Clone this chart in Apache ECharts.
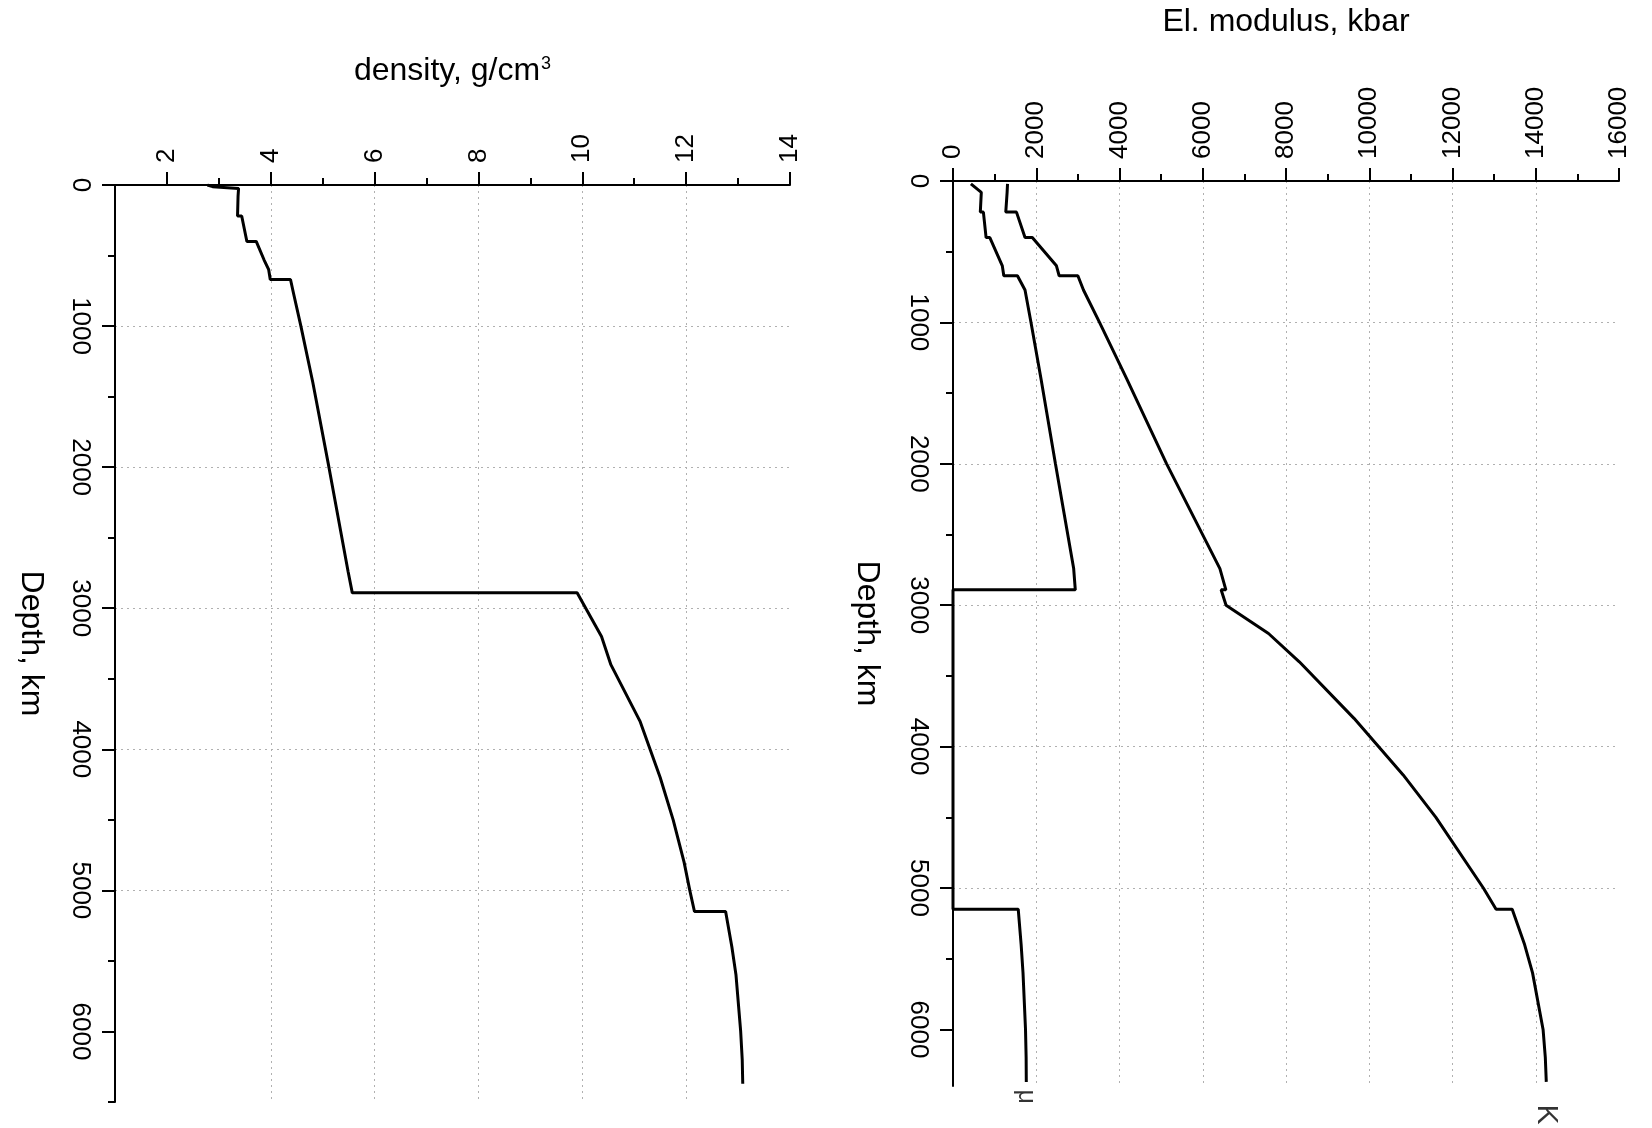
<!DOCTYPE html>
<html>
<head>
<meta charset="utf-8">
<script src="https://cdn.jsdelivr.net/npm/echarts@6/dist/echarts.min.js"></script>
<style>
html,body{margin:0;padding:0;background:#fff;}
#c{width:1652px;height:1128px;}
</style>
</head>
<body>
<div id="c"></div>
<script>
// ---------- data ----------
const densityDepth = [0, 12, 24.4, 24.4, 80, 220, 220, 400, 400, 530, 600, 670, 670, 771, 1000, 1400, 2000, 2741, 2891, 2891, 3200, 3400, 3800, 4200, 4500, 4800, 5000, 5150, 5150, 5400, 5600, 6000, 6200, 6371];
const density = [2.78, 2.88, 2.90, 3.38, 3.37, 3.36, 3.44, 3.54, 3.72, 3.87, 3.96, 3.99, 4.38, 4.44, 4.58, 4.81, 5.12, 5.49, 5.57, 9.90, 10.37, 10.55, 11.11, 11.50, 11.75, 11.96, 12.07, 12.16, 12.76, 12.88, 12.96, 13.05, 13.08, 13.09];

const modulusDepth = [20, 80, 220, 220, 400, 400, 600, 670, 670, 771, 1000, 1400, 2000, 2741, 2891, 2891, 3000, 3200, 3400, 3800, 4200, 4500, 5000, 5150, 5150, 5400, 5600, 6000, 6200, 6371];
const bulkK = [1310, 1300, 1268, 1525, 1730, 1905, 2485, 2550, 3000, 3134, 3520, 4174, 5132, 6412, 6556, 6441, 6560, 7580, 8320, 9634, 10815, 11601, 12741, 13047, 13434, 13732, 13923, 14176, 14230, 14253];
const shearMu = [430, 680, 656, 730, 795, 885, 1185, 1220, 1548, 1730, 1874, 2115, 2461, 2899, 2938, 0, 0, 0, 0, 0, 0, 0, 0, 0, 1567, 1637, 1682, 1742, 1757, 1761];

const depthTicks = [0, 1000, 2000, 3000, 4000, 5000, 6000];
const depthMinorTicksLeft = [500, 1500, 2500, 3500, 4500, 5500, 6500];
const depthMinorTicksRight = [500, 1500, 2500, 3500, 4500, 5500];
const densityTicks = [2, 4, 6, 8, 10, 12, 14];
const densityMinorTicks = [3, 5, 7, 9, 11, 13];
const modulusTicks = [0, 2000, 4000, 6000, 8000, 10000, 12000, 14000, 16000];
const modulusMinorTicks = [1000, 3000, 5000, 7000, 9000, 11000, 13000, 15000];

const curveNames = {K: 'K', mu: 'μ'};

// ---------- chart ----------
const FONT = '"Liberation Sans", Arial, Helvetica, sans-serif';
const chart = echarts.init(document.getElementById('c'), null, {renderer: 'canvas'});

const axisLineStyle = {color: '#000', width: 2};
const tickStyle = {color: '#000', width: 2};
const gridLineStyle = {color: '#b0b0b0', type: [2, 4], width: 1};

function mainAxis(o) {
  const a = {
    type: 'value', gridIndex: o.grid, position: o.pos,
    min: o.min, max: o.max, inverse: !!o.inverse,
    name: o.name, nameLocation: 'middle', nameGap: o.nameGap,
    nameTextStyle: Object.assign({color: '#000', fontSize: 32, fontFamily: FONT}, o.nameStyle || {}),
    axisLine: {show: true, onZero: false, lineStyle: axisLineStyle},
    axisTick: {show: true, inside: false, length: 13, customValues: o.ticks, lineStyle: tickStyle},
    axisLabel: {show: true, customValues: o.ticks, rotate: -90, margin: o.margin,
      formatter: v => String(v),
      fontSize: 26, color: '#000', fontFamily: FONT},
    splitLine: {show: true, showMinLine: false, showMaxLine: false, lineStyle: gridLineStyle}
  };
  if (o.nameRotate != null) a.nameRotate = o.nameRotate;
  if (o.interval != null) a.interval = o.interval;
  if (o.splitNumber != null) a.splitNumber = o.splitNumber;
  return a;
}
function minorAxis(o) {
  return {
    type: 'value', gridIndex: o.grid, position: o.pos,
    min: o.min, max: o.max, inverse: !!o.inverse,
    axisLine: {show: false, onZero: false},
    axisTick: {show: true, inside: false, length: 7, customValues: o.ticks, lineStyle: tickStyle},
    axisLabel: {show: false},
    splitLine: {show: false}
  };
}

function pairs(xs, ys) { return xs.map((x, i) => [x, ys[i]]); }
function lastPair(xs, ys) { return [[xs[xs.length - 1], ys[ys.length - 1]]]; }

const option = {
  backgroundColor: '#fff',
  animation: false,
  grid: [
    {left: 115, top: 185, width: 675, height: 917},
    {left: 953, top: 181, width: 666, height: 905}
  ],
  xAxis: [
    mainAxis({grid: 0, pos: 'top', min: 1, max: 14, splitNumber: 7, ticks: densityTicks, margin: 22,
      name: '{a|density, g/cm}{s|3}', nameGap: 98,
      nameStyle: {rich: {
        a: {fontSize: 32, fontFamily: FONT, color: '#000'},
        s: {fontSize: 18, fontFamily: FONT, color: '#000', verticalAlign: 'top', padding: [0, 0, 6, 1]}
      }}}),
    minorAxis({grid: 0, pos: 'top', min: 1, max: 14, ticks: densityMinorTicks}),
    mainAxis({grid: 1, pos: 'top', min: 0, max: 16000, interval: 2000, ticks: modulusTicks, margin: 22,
      name: 'El. modulus, kbar', nameGap: 143}),
    minorAxis({grid: 1, pos: 'top', min: 0, max: 16000, ticks: modulusMinorTicks})
  ],
  yAxis: [
    mainAxis({grid: 0, pos: 'left', min: 0, max: 6500, interval: 1000, inverse: true, ticks: depthTicks,
      margin: 22, name: 'Depth, km', nameGap: 68, nameRotate: -90}),
    minorAxis({grid: 0, pos: 'left', min: 0, max: 6500, inverse: true, ticks: depthMinorTicksLeft}),
    mainAxis({grid: 1, pos: 'left', min: 0, max: 6400, interval: 1000, inverse: true, ticks: depthTicks,
      margin: 22, name: 'Depth, km', nameGap: 70, nameRotate: -90}),
    minorAxis({grid: 1, pos: 'left', min: 0, max: 6400, inverse: true, ticks: depthMinorTicksRight})
  ],
  series: [
    {type: 'line', xAxisIndex: 0, yAxisIndex: 0, data: pairs(density, densityDepth),
      showSymbol: false, silent: true, lineStyle: {color: '#000', width: 3}},
    {type: 'line', xAxisIndex: 2, yAxisIndex: 2, data: pairs(bulkK, modulusDepth),
      showSymbol: false, silent: true, lineStyle: {color: '#000', width: 3}},
    {type: 'line', xAxisIndex: 2, yAxisIndex: 2, data: pairs(shearMu, modulusDepth),
      showSymbol: false, silent: true, lineStyle: {color: '#000', width: 3}},
    {type: 'scatter', xAxisIndex: 2, yAxisIndex: 2, data: lastPair(bulkK, modulusDepth),
      symbolSize: 1, itemStyle: {color: 'rgba(0,0,0,0)'}, silent: true,
      label: {show: true, formatter: curveNames.K, position: 'bottom', distance: 22, rotate: -90,
        align: 'left', verticalAlign: 'middle', fontSize: 30, fontFamily: FONT, color: '#000'}},
    {type: 'scatter', xAxisIndex: 2, yAxisIndex: 2, data: lastPair(shearMu, modulusDepth),
      symbolSize: 1, itemStyle: {color: 'rgba(0,0,0,0)'}, silent: true,
      label: {show: true, formatter: curveNames.mu, position: 'bottom', distance: 7, rotate: -90,
        align: 'left', verticalAlign: 'middle', fontSize: 25, fontFamily: FONT, color: '#000'}}
  ]
};
chart.setOption(option);
</script>
</body>
</html>
